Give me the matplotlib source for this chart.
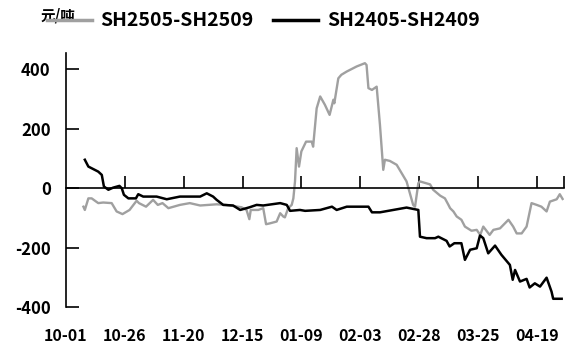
import numpy as np
import matplotlib.pyplot as plt
from matplotlib.lines import Line2D

plt.rcParams['font.family'] = ['Noto Sans CJK SC', 'DejaVu Sans']
plt.rcParams['axes.unicode_minus'] = False

# days counted from 10-01
tick_days = [0, 25, 50, 75, 100, 125, 150, 175, 200]
tick_labels = ['10-01', '10-26', '11-20', '12-15', '01-09', '02-03', '02-28', '03-25', '04-19']
y_ticks = [400, 200, 0, -200, -400]

# SH2505-SH2509 (grey)
d25 = [7.4, 8, 9.5, 10.9, 13.7, 15.8, 19.4, 21.5, 24, 27, 30, 31, 34, 37, 39, 41, 43.5,
       48.4, 52.6, 57, 64, 68, 74.6, 76.7, 77.9, 78.5, 81.7, 83.8, 85, 86.7, 89.5, 91,
       92.3, 93, 94.4, 95.9, 96.6, 97.3, 98, 99, 100, 102, 104.4, 105, 106.5, 108, 110,
       112, 113.6, 114, 115.7, 117, 119.3, 123.5, 127, 127.7, 128.5, 130, 132, 133.4,
       134.8, 135.5, 137.6, 140.5, 144.7, 147.5, 148.3, 149.7, 150.4, 154.7, 156, 159,
       161, 162.5, 163.2, 164.6, 166, 168, 169.5, 172.3, 174.5, 176, 177.3, 180, 181.6,
       184.4, 188, 190, 191.5, 193.6, 195.7, 197.8, 200, 202, 204.2, 205.6, 208.5,
       209.8, 211]
v25 = [-62, -73, -34, -34, -50, -48, -50, -78, -87, -73, -42, -50, -62, -39, -56, -50, -67,
       -56, -50, -58, -54, -56, -64, -73, -104, -73, -73, -67, -121, -118, -112, -84,
       -95, -98, -67, -56, -34, 23, 135, 73, 124, 157, 157, 140, 269, 309, 281,
       247, 298, 286, 370, 382, 393, 410, 421, 415, 337, 331, 342, 213,
       62, 96, 92, 79, 23, -56, -62, 17, 23, 13, -5, -25,
       -34, -56, -67, -78, -95, -106, -129, -143, -140, -157, -129, -157, -140,
       -135, -106, -129, -152, -152, -129, -50, -56, -62, -78, -45, -37,
       -20, -36]

# SH2405-SH2409 (black)
d24 = [8, 9.5, 13.7, 15.2, 16.1, 18, 20, 22.7, 23.7, 24.6, 26.5, 29.7, 30.7, 32.8, 38.5,
       42.8, 48.4, 57, 59.8, 62.5, 64, 66.8, 71, 74, 78, 81, 83.8, 91, 93.8, 95.2, 99.4,
       101.6, 108, 113, 115, 119.3, 128.5, 130, 133.4, 144.7, 149.7, 150.4, 153.2,
       156.8, 158.2, 161.7, 163, 165, 168, 169.5, 171.7, 174.5, 175.9, 177.3, 179.4,
       182.3, 185, 188.6, 189.8, 190.8, 192.9, 195.7, 197, 199.2, 201.4, 204.2, 206.3,
       207, 210.6]
v24 = [96, 73, 56, 45, 6, -5, 2, 8, 0, -22, -34, -34, -20, -28, -28,
       -37, -28, -28, -17, -28, -39, -56, -58, -73, -64, -56, -58, -50, -56, -76, -73,
       -76, -73, -62, -73, -62, -62, -81, -81, -65, -73, -163, -168,
       -168, -163, -177, -196, -185, -185, -241, -207, -202, -159, -168, -219,
       -193, -224, -258, -308, -275, -314, -305, -334, -320, -331, -301, -348,
       -372, -372]

fig = plt.figure(figsize=(5.74, 3.47), dpi=100)
ax = fig.add_axes([0.115, 0.115, 0.868, 0.732])

ax.plot(d25, v25, color='#a0a0a0', lw=1.7)
ax.plot(d24, v24, color='black', lw=1.8)

ax.set_xlim(0, 211.7)
ax.set_ylim(-400, 455)

for s in ['top', 'right']:
    ax.spines[s].set_visible(False)
ax.spines['bottom'].set_position(('data', 0))
ax.spines['bottom'].set_linewidth(1.2)
ax.spines['left'].set_linewidth(1.2)

ax.set_xticks(tick_days[1:] + [211.7])
ax.tick_params(axis='x', direction='in', length=9, width=1.2, labelbottom=False)
ax.set_yticks(y_ticks)
ax.set_yticklabels([str(v) for v in y_ticks], fontsize=12, fontweight='bold')
ax.tick_params(axis='y', direction='in', length=9, width=1.2, pad=11)

sec = ax.secondary_xaxis(0)
sec.set_xticks(tick_days)
sec.set_xticklabels(tick_labels, fontsize=11.5, fontweight='bold')
sec.tick_params(length=0, pad=15)
sec.spines['bottom'].set_visible(False)

handles = [Line2D([], [], color='#a0a0a0', lw=2.5),
           Line2D([], [], color='black', lw=2.5)]
fig.legend(handles, ['SH2505-SH2509', 'SH2405-SH2409'], ncol=2, frameon=False,
           loc='center left', bbox_to_anchor=(0.082, 0.94), borderpad=0,
           borderaxespad=0, prop={'size': 14, 'weight': 'bold'}, handlelength=2.3,
           handletextpad=0.45, columnspacing=1.0)
fig.text(0.07, 0.955, '元/吨', fontsize=10.5, fontweight='bold', va='center', ha='left')

fig.savefig('out.png', dpi=100)
